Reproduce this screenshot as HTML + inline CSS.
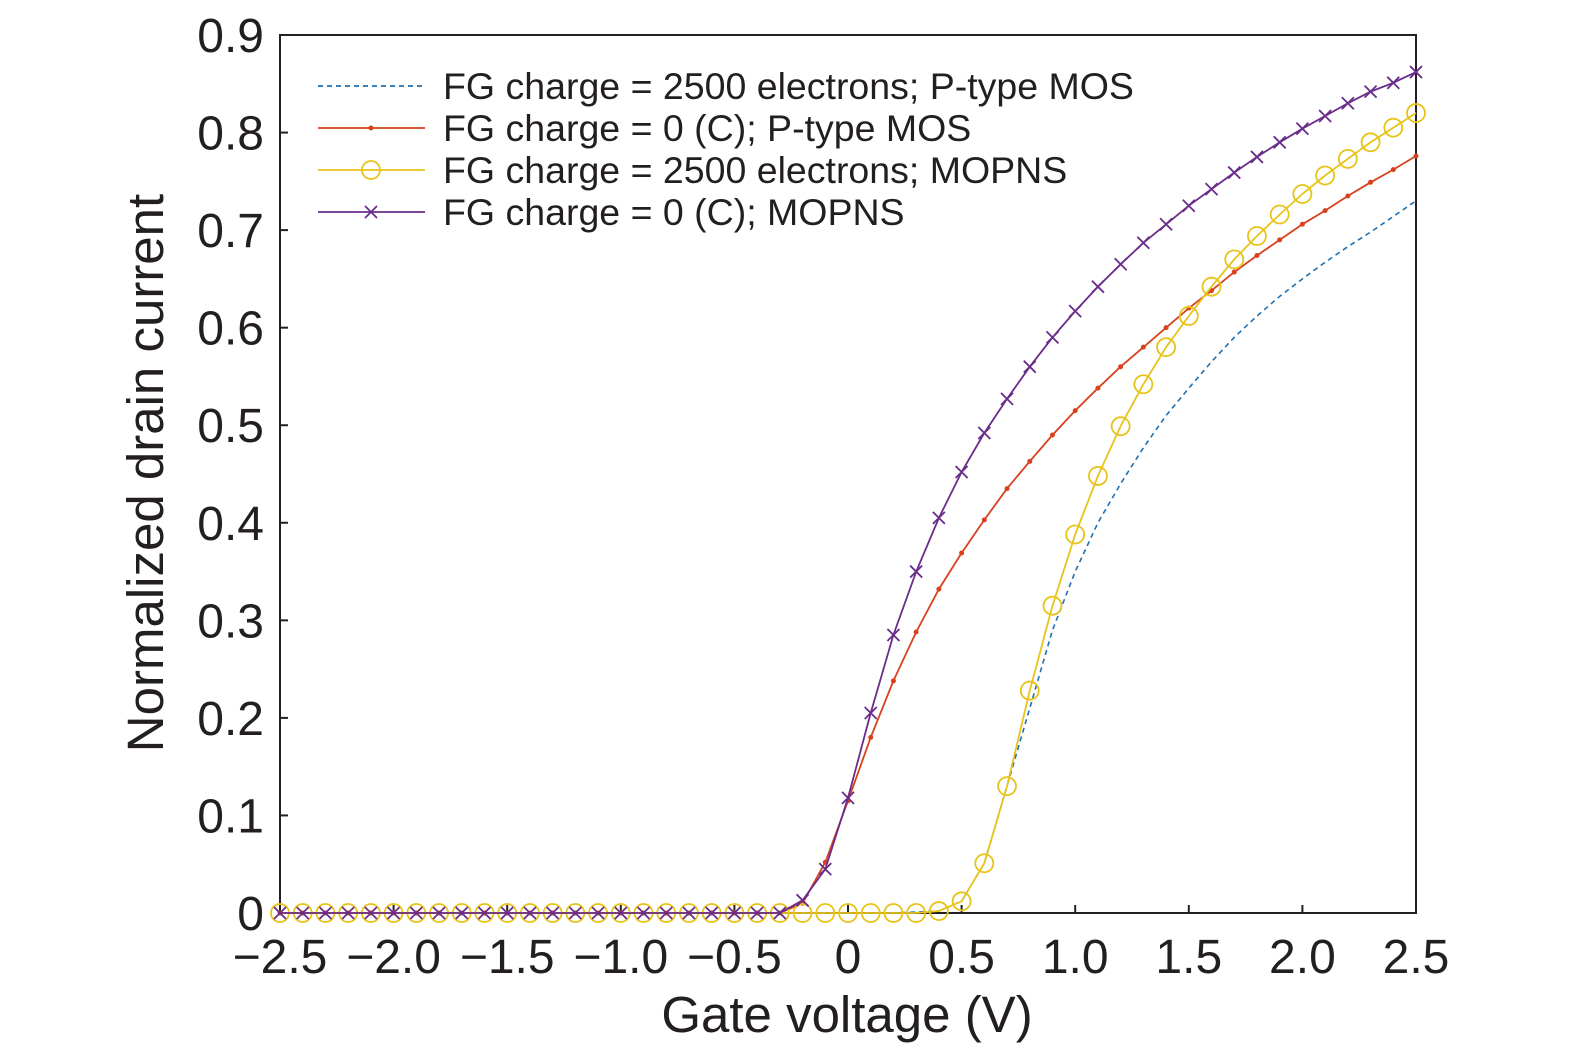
<!DOCTYPE html>
<html><head><meta charset="utf-8"><style>
body{margin:0;background:#fff}
svg{display:block}
text{font-family:"Liberation Sans",sans-serif;fill:#231f20}
</style></head><body>
<svg id="chart" width="1575" height="1053" viewBox="0 0 1575 1053" xmlns="http://www.w3.org/2000/svg"></svg>
<script>
const xTicks=[-2.5,-2.0,-1.5,-1.0,-0.5,0,0.5,1.0,1.5,2.0,2.5];
const xTickLabels=["\u22122.5","\u22122.0","\u22121.5","\u22121.0","\u22120.5","0","0.5","1.0","1.5","2.0","2.5"];
const yTicks=[0,0.1,0.2,0.3,0.4,0.5,0.6,0.7,0.8,0.9];
const yTickLabels=["0","0.1","0.2","0.3","0.4","0.5","0.6","0.7","0.8","0.9"];
const gateV=[-2.5,-2.4,-2.3,-2.2,-2.1,-2.0,-1.9,-1.8,-1.7,-1.6,-1.5,-1.4,-1.3,-1.2,-1.1,-1.0,-0.9,-0.8,-0.7,-0.6,-0.5,-0.4,-0.3,-0.2,-0.1,0,0.1,0.2,0.3,0.4,0.5,0.6,0.7,0.8,0.9,1.0,1.1,1.2,1.3,1.4,1.5,1.6,1.7,1.8,1.9,2.0,2.1,2.2,2.3,2.4,2.5];
const Z23=[0,0,0,0,0,0,0,0,0,0,0,0,0,0,0,0,0,0,0,0,0,0,0];
const pmos2500=Z23.concat([0,0,0,0,0,0.001,0.002,0.012,0.051,0.13,0.21,0.29,0.35,0.4,0.44,0.477,0.51,0.538,0.565,0.59,0.612,0.632,0.65,0.667,0.683,0.698,0.714,0.73]);
const pmos0=Z23.concat([0.01,0.052,0.115,0.18,0.238,0.288,0.332,0.369,0.403,0.435,0.463,0.49,0.515,0.538,0.56,0.58,0.6,0.62,0.638,0.657,0.674,0.69,0.706,0.72,0.735,0.749,0.762,0.776]);
const mopns2500=Z23.concat([0,0,0,0,0,0,0.002,0.012,0.051,0.13,0.228,0.315,0.388,0.448,0.499,0.542,0.58,0.612,0.642,0.67,0.694,0.716,0.737,0.756,0.773,0.79,0.805,0.82]);
const mopns0=Z23.concat([0.013,0.045,0.118,0.205,0.285,0.35,0.405,0.452,0.492,0.527,0.56,0.59,0.617,0.642,0.665,0.687,0.706,0.725,0.742,0.759,0.775,0.79,0.804,0.817,0.83,0.842,0.851,0.862]);

const svg=document.getElementById('chart');
const NS='http://www.w3.org/2000/svg';
const X0=280,X1=1416,Y0=913,Y1=35;
const sx=v=>X0+(v+2.5)/5*(X1-X0);
const sy=v=>Y0-v/0.9*(Y0-Y1);
function mk(tag,attrs,parent){const e=document.createElementNS(NS,tag);for(const k in attrs)e.setAttribute(k,attrs[k]);(parent||svg).appendChild(e);return e;}

const frame=mk('rect',{x:X0,y:Y1,width:X1-X0,height:Y0-Y1,fill:'none',stroke:'#231f20','stroke-width':2});



xTicks.forEach((t,i)=>{
  const tk=mk('line',{x1:sx(t),x2:sx(t),y1:Y0,y2:Y0-8,stroke:'#231f20','stroke-width':2});
  
  
  const lb=mk('text',{x:sx(t),y:973,'text-anchor':'middle','font-size':48});
  lb.textContent=xTickLabels[i];
  
  
});
yTicks.forEach((t,i)=>{
  const tk=mk('line',{x1:X0,x2:X0+8,y1:sy(t),y2:sy(t),stroke:'#231f20','stroke-width':2});
  
  
  const lb=mk('text',{x:264,y:sy(t)+17,'text-anchor':'end','font-size':48});
  lb.textContent=yTickLabels[i];
  
  
});
const xt=mk('text',{x:847,y:1032,'text-anchor':'middle','font-size':51});
xt.textContent='Gate voltage (V)';


const yt=mk('text',{x:0,y:0,'text-anchor':'middle','font-size':51,transform:'translate(163,473) rotate(-90)'});
yt.textContent='Normalized drain current';



function pathOf(vals){return vals.map((v,i)=>(i?'L':'M')+sx(gateV[i]).toFixed(1)+','+sy(v).toFixed(1)).join(' ');}
function marker(type,cx,cy,color,g){
  if(type==='dot')return mk('circle',{cx,cy,r:2.5,fill:color},g);
  if(type==='circle')return mk('circle',{cx,cy,r:9,fill:'none',stroke:color,'stroke-width':1.8},g);
  if(type==='x'){const p=mk('path',{d:`M${cx-6},${cy-6}L${cx+6},${cy+6}M${cx-6},${cy+6}L${cx+6},${cy-6}`,stroke:color,'stroke-width':1.8},g);return p;}
  return null;
}
const series=[
  {name:'series-pmos-2500',vals:pmos2500,color:'#1f6fb2',dash:'5,4',m:null,label:'FG charge = 2500 electrons; P-type MOS'},
  {name:'series-pmos-0',vals:pmos0,color:'#d9401e',dash:null,m:'dot',label:'FG charge = 0 (C); P-type MOS'},
  {name:'series-mopns-2500',vals:mopns2500,color:'#e8c31a',dash:null,m:'circle',label:'FG charge = 2500 electrons; MOPNS'},
  {name:'series-mopns-0',vals:mopns0,color:'#6a2d8a',dash:null,m:'x',label:'FG charge = 0 (C); MOPNS'}
];
series.forEach((s,si)=>{
  const g=mk('g',{});
  
  
  const a={d:pathOf(s.vals),fill:'none',stroke:s.color,'stroke-width':s.dash?1.6:1.8};
  if(s.dash)a['stroke-dasharray']=s.dash;
  mk('path',a,g);
  if(s.m)s.vals.forEach((v,i)=>{const m=marker(s.m,sx(gateV[i]),sy(v),s.color,g);
    
    });
  const ly=86+si*42;
  const lg=mk('g',{});
  
  
  const la={x1:318,x2:425,y1:ly,y2:ly,stroke:s.color,'stroke-width':1.8};
  if(s.dash)la['stroke-dasharray']=s.dash;
  mk('line',la,lg);
  if(s.m)marker(s.m,371,ly,s.color,lg);
  const t=mk('text',{x:443,y:ly+13,'font-size':37.5},lg);
  t.textContent=s.label;
});
</script>
</body></html>
